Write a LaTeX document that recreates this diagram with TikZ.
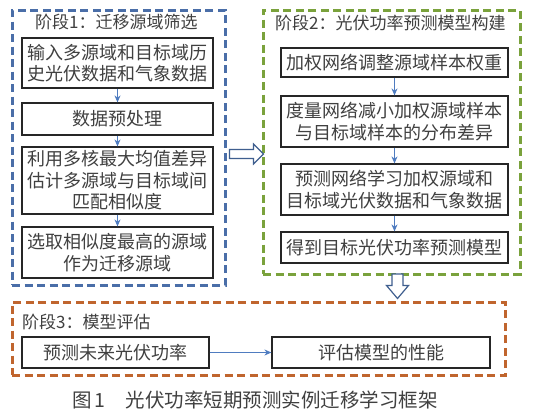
\documentclass[tikz,border=0pt]{standalone}
\usepackage{fontspec}
\setmainfont{Noto Sans CJK SC}
\usetikzlibrary{arrows.meta}
\definecolor{bluedash}{HTML}{4A6EA8}
\definecolor{greendash}{HTML}{7AA23C}
\definecolor{orangedash}{HTML}{C0652E}
\definecolor{arrowblue}{HTML}{4F7CC0}
\definecolor{hollowblue}{HTML}{3F5F8F}
\definecolor{txt}{HTML}{404040}
\begin{document}
\begin{tikzpicture}[x=1pt,y=-1pt,
  frame/.style={draw=#1, line width=3pt, dash pattern=on 8pt off 4.5pt, inner sep=0pt},
  stepbox/.style={draw=black!85, line width=1.2pt, fill=white, text=txt,
     font=\fontsize{18}{21.5}\selectfont, align=center, inner sep=0pt},
  title/.style={text=txt, font=\fontsize{17}{20}\selectfont, anchor=west, inner sep=0pt},
  flow/.style={draw=arrowblue, line width=1pt, -{Stealth[length=7pt,width=6pt]}},
  hollow/.style={draw=hollowblue, line width=1.2pt, fill=white, line join=miter}
]
\fill[white] (0,0) rectangle (540,418);
\useasboundingbox (0,0) rectangle (540,418);

% stage frames
\node[frame=bluedash, minimum width=213pt, minimum height=275pt] (s1) at (118.5,147.5) {};
\node[frame=greendash, minimum width=257pt, minimum height=264pt] (s2) at (391.5,142) {};
\node[frame=orangedash, minimum width=493pt, minimum height=73pt] (s3) at (258.5,338.5) {};

% titles
\node[title] (t1) at (35,22) {阶段1：迁移源域筛选};
\node[title] (t2) at (275,23) {阶段2：光伏功率预测模型构建};
\node[title] (t3) at (22,322) {阶段3：模型评估};

% stage 1 boxes
\node[stepbox, minimum width=191pt, minimum height=50pt] (b1) at (117.5,63) {输入多源域和目标域历\\史光伏数据和气象数据};
\node[stepbox, minimum width=191pt, minimum height=32pt] (b2) at (117.5,119) {数据预处理};
\node[stepbox, minimum width=191pt, minimum height=67pt] (b3) at (117.5,180.5) {利用多核最大均值差异\\估计多源域与目标域间\\匹配相似度};
\node[stepbox, minimum width=191pt, minimum height=51pt] (b4) at (117.5,252.5) {选取相似度最高的源域\\作为迁移源域};

% stage 2 boxes
\node[stepbox, minimum width=227pt, minimum height=29pt] (g1) at (394.5,62.5) {加权网络调整源域样本权重};
\node[stepbox, minimum width=227pt, minimum height=51pt] (g2) at (394.5,121.5) {度量网络减小加权源域样本\\与目标域样本的分布差异};
\node[stepbox, minimum width=227pt, minimum height=51pt] (g3) at (394.5,189.5) {预测网络学习加权源域和\\目标域光伏数据和气象数据};
\node[stepbox, minimum width=227pt, minimum height=31pt] (g4) at (394.5,247.5) {得到目标光伏功率预测模型};

% stage 3 boxes
\node[stepbox, minimum width=187pt, minimum height=31pt] (o1) at (115.5,352.5) {预测未来光伏功率};
\node[stepbox, minimum width=218pt, minimum height=31pt] (o2) at (381,352.5) {评估模型的性能};

% flow arrows
\draw[flow] (b1) -- (b2);
\draw[flow] (b2) -- (b3);
\draw[flow] (b3) -- (b4);
\draw[flow] (g1) -- (g2);
\draw[flow] (g2) -- (g3);
\draw[flow] (g3) -- (g4);
\draw[flow] (o1) -- (o2);

% hollow arrow stage1 -> stage2
\coordinate (ra) at (s1.east |- 0,145);
\draw[hollow] ([xshift=3pt,yshift=-4.5pt]ra) -- ++(24,0) -- ++(0,-5.5) -- ++(10,10) -- ++(-10,10) -- ++(0,-5.5) -- ++(-24,0) -- cycle;

% hollow arrow stage2 -> stage3
\coordinate (da) at (397.5,0 |- s2.south);
\draw[hollow] ([xshift=-5.5pt,yshift=1.5pt]da) -- ++(0,11.5) -- ++(-5.5,0) -- ++(11,13) -- ++(11,-13) -- ++(-5.5,0) -- ++(0,-11.5) -- cycle;

% caption
\node[anchor=west, inner sep=0pt, text=txt, font=\fontsize{19.5}{22}\selectfont] (cap) at (72,400) {图\,1\hspace{20pt}光伏功率短期预测实例迁移学习框架};
\end{tikzpicture}
\end{document}
